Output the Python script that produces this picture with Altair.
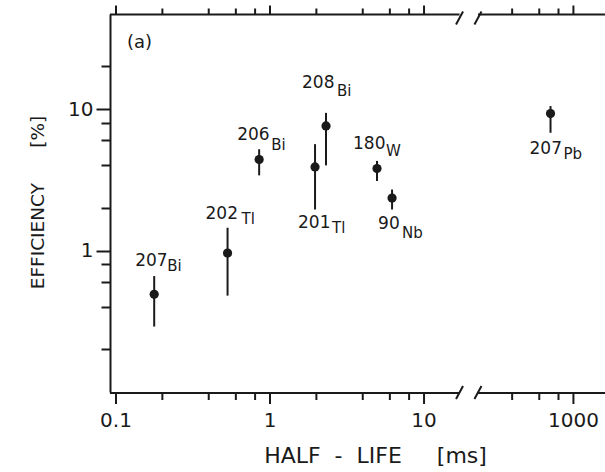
import altair as alt
import numpy as np
import pandas as pd

# Measured efficiencies versus half-life for each nuclide
mass = ["207", "202", "206", "201", "208", "180", "90", "207"]
element = ["Bi", "Tl", "Bi", "Tl", "Bi", "W", "Nb", "Pb"]
half_life = [0.177, 0.53, 0.85, 1.96, 2.31, 4.95, 6.2, 710]
efficiency = [0.49, 0.96, 4.4, 3.9, 7.6, 3.8, 2.35, 9.3]
eff_low = [0.29, 0.48, 3.4, 1.95, 4.0, 3.1, 1.95, 6.8]
eff_high = [0.66, 1.45, 5.2, 5.65, 9.4, 4.3, 2.7, 10.5]

# Axis ticks
x_minor = [0.2, 0.4, 0.6, 0.8, 2, 4, 6, 8, 400, 600, 800]
x_major = [0.1, 1, 10, 1000]
x_major_labels = ["0.1", "1", "10", "1000"]
y_ticks = [0.2, 0.4, 0.6, 0.8, 1, 2, 4, 6, 8, 10, 20]

# Broken log axis: the decade gap between the two segments is cut out
SHIFT = 1.03
BREAK_LO = 17
BREAK_HI = 240
U_MIN, U_MAX = -1.039, 2.175


def to_u(v):
    v = np.asarray(v, dtype=float)
    return np.where(v < 100, np.log10(v), np.log10(v) - SHIFT)


# label placement (pixel offsets of mass number and element symbol)
label_offsets = [
    (-19, -33, 13, -28),
    (-22, -39, 14, -34),
    (-22, -25, 12, -15),
    (-17, 56, 17, 61),
    (-24, -43, 11, -35),
    (-24, -25, 9, -18),
    (-14, 26, 10, 35),
    (-21, 35, 13, 40),
]

INK = "#1a1a1a"
FONT = "DejaVu Sans"
W, H = 495, 378
NB = "\u00a0"

df = pd.DataFrame({
    "idx": list(range(len(mass))),
    "mass": mass,
    "element": element,
    "u": to_u(half_life),
    "eff": efficiency,
    "lo": eff_low,
    "hi": eff_high,
})

xscale = alt.Scale(domain=[U_MIN, U_MAX], nice=False, zero=False)
yscale = alt.Scale(type="log", domain=[0.1, 47], nice=False)

y_axis = alt.Axis(
    values=y_ticks,
    labelExpr="datum.value == 1 ? '1' : datum.value == 10 ? '10' : ''",
    tickSize={"condition": {"test": "datum.value == 1 || datum.value == 10", "value": 14}, "value": 9},
    tickWidth=2, tickColor=INK, domainColor=INK, domainWidth=2,
    labelFontSize=20, labelFont=FONT, labelColor=INK, labelPadding=3,
    grid=False,
    title="EFFICIENCY" + NB * 6 + "[%]", titleFont=FONT, titleFontSize=18.5, titleFontWeight="normal",
    titleColor=INK, titleX=-73, titleY=H / 2 - 1, titleBaseline="middle", titleAngle=270,
)

X = alt.X("u:Q", scale=xscale, axis=None)

bars = alt.Chart(df).mark_rule(color=INK, strokeWidth=2).encode(
    x=X, y=alt.Y("lo:Q", scale=yscale, axis=y_axis), y2="hi:Q"
)
points = alt.Chart(df).mark_circle(color=INK, opacity=1, size=85).encode(
    x=X, y=alt.Y("eff:Q", scale=yscale)
)

layers = [bars, points]

for i, (mdx, mdy, edx, edy) in enumerate(label_offsets):
    base = alt.Chart(df).transform_filter(alt.datum.idx == i)
    layers.append(base.mark_text(align="left", baseline="middle", dx=mdx, dy=mdy,
                                 fontSize=17, font=FONT, color=INK).encode(
        x=X, y=alt.Y("eff:Q", scale=yscale), text="mass:N"))
    layers.append(base.mark_text(align="left", baseline="middle", dx=edx, dy=edy,
                                 fontSize=15, font=FONT, color=INK).encode(
        x=X, y=alt.Y("eff:Q", scale=yscale), text="element:N"))

# Horizontal frame lines (bottom and top) with the break
BOT, TOP = H + 1, 0.5
seg = pd.DataFrame({"a": [U_MIN, float(to_u(BREAK_HI))], "b": [float(to_u(BREAK_LO)), U_MAX]})
for yy in (BOT, TOP):
    layers.append(alt.Chart(seg).mark_rule(color=INK, strokeWidth=2).encode(
        x=alt.X("a:Q", scale=xscale, axis=None), x2="b:Q", y=alt.value(yy)))

d = 3.5 / 154
slash = pd.DataFrame({"c": [float(to_u(BREAK_LO)), float(to_u(BREAK_HI))]})
slash["a"] = slash["c"] - d
slash["b"] = slash["c"] + d
for yy in (BOT, TOP + 4):
    layers.append(alt.Chart(slash).mark_rule(color=INK, strokeWidth=2).encode(
        x=alt.X("a:Q", scale=xscale, axis=None), x2="b:Q",
        y=alt.value(yy + 6), y2=alt.value(yy - 7)))

# Tick marks on the broken x axis
tmin = pd.DataFrame({"u": to_u(x_minor)})
tmaj = pd.DataFrame({"u": to_u(x_major), "label": x_major_labels})
layers += [
    alt.Chart(tmin).mark_rule(color=INK, strokeWidth=2).encode(x=X, y=alt.value(BOT), y2=alt.value(BOT + 7)),
    alt.Chart(tmaj).mark_rule(color=INK, strokeWidth=2).encode(x=X, y=alt.value(BOT), y2=alt.value(BOT + 11)),
    alt.Chart(tmin).mark_rule(color=INK, strokeWidth=2).encode(x=X, y=alt.value(TOP), y2=alt.value(TOP - 6)),
    alt.Chart(tmaj).mark_rule(color=INK, strokeWidth=2).encode(x=X, y=alt.value(TOP), y2=alt.value(TOP - 9)),
    alt.Chart(tmaj).mark_text(baseline="top", fontSize=20, font=FONT, color=INK).encode(
        x=X, y=alt.value(BOT + 18), text="label:N"),
]

# Axis title and panel tag
x_title = "HALF" + NB * 2 + "-" + NB * 2 + "LIFE" + NB * 5 + "[ms]"
layers.append(alt.Chart(pd.DataFrame({"t": [x_title]})).mark_text(
    fontSize=22, font=FONT, color=INK, baseline="middle").encode(
    text="t:N", x=alt.value(W / 2 + 18), y=alt.value(H + 64)))
layers.append(alt.Chart(pd.DataFrame({"t": ["(a)"]})).mark_text(
    fontSize=18, font=FONT, color=INK, align="left", baseline="middle").encode(
    text="t:N", x=alt.value(17), y=alt.value(29)))

chart = alt.layer(*layers).properties(
    width=W, height=H,
    padding={"left": 110, "top": 14, "right": 0, "bottom": 80},
    autosize=alt.AutoSizeParams(type="none"),
).configure_view(stroke=None)

chart.save("out.html", embed_options={"renderer": "svg", "actions": False})
